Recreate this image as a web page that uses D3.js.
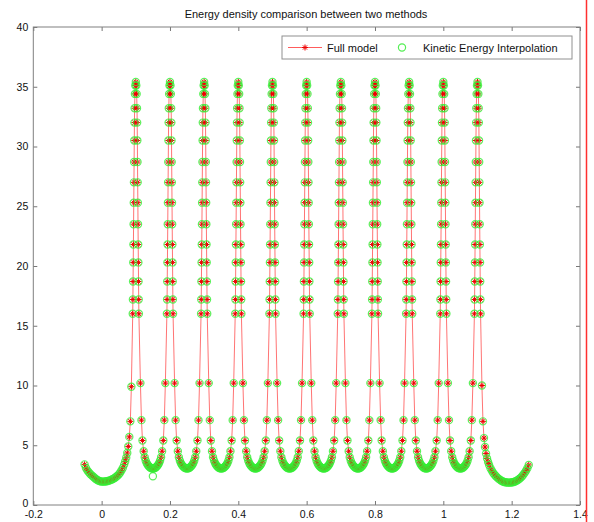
<!DOCTYPE html>
<html>
<head>
<meta charset="utf-8">
<script src="https://cdn.jsdelivr.net/npm/d3@7"></script>
<style>
  body { margin: 0; background: #fff; }
  svg { display: block; font-family: "Liberation Sans", Arial, sans-serif; }
  .tick text { fill: #111; font-size: 10.5px; }
  .tick line { stroke: #777; }
</style>
</head>
<body>
<div id="chart"></div>
<script>
// peaks of the periodic energy density (centre positions)
const peakCenters = [0.1, 0.2, 0.3, 0.4, 0.5, 0.6, 0.7, 0.8, 0.9, 1.0, 1.1];

// shape around one peak: offset from the peak centre and value
const peakDx = [-0.05, -0.047, -0.044, -0.041, -0.038, -0.035, -0.032, -0.029, -0.026, -0.023,
  -0.0195, -0.0165, -0.0135, -0.009, -0.0085, -0.008, -0.0075, -0.007, -0.0065, -0.006,
  -0.0055, -0.005, -0.0045, -0.004, -0.0035, -0.0025, -0.0015, 0, 0.0015, 0.0025,
  0.0035, 0.004, 0.0045, 0.005, 0.0055, 0.006, 0.0065, 0.007, 0.0075, 0.008,
  0.0085, 0.009, 0.0135, 0.0165, 0.0195, 0.023, 0.026, 0.029, 0.032, 0.035,
  0.038, 0.041, 0.044, 0.047];
const peakY = [3.06, 3.07, 3.1, 3.16, 3.24, 3.35, 3.5, 3.7, 4.0, 4.5,
  5.4, 7.1, 10.2, 16.0, 17.2, 18.7, 20.3, 21.8, 23.5, 25.3,
  27.0, 28.7, 30.5, 32.0, 33.2, 34.4, 35.1, 35.4, 35.1, 34.4,
  33.2, 32.0, 30.5, 28.7, 27.0, 25.3, 23.5, 21.8, 20.3, 18.7,
  17.2, 16.0, 10.2, 7.1, 5.4, 4.5, 4.0, 3.7, 3.5, 3.35,
  3.24, 3.16, 3.1, 3.07];

// the two end pieces
const leftTailX = [-0.05, -0.046, -0.042, -0.038, -0.034, -0.030, -0.026, -0.022, -0.018, -0.014,
  -0.010, -0.006, -0.002, 0.002, 0.006, 0.010, 0.014, 0.018, 0.022, 0.026,
  0.030, 0.034, 0.038, 0.042, 0.046, 0.050, 0.054, 0.058, 0.062, 0.066,
  0.069, 0.072, 0.075, 0.078, 0.081, 0.084, 0.087];
const leftTailY = [3.4, 3.1, 2.9, 2.75, 2.62, 2.5, 2.4, 2.3, 2.2, 2.12,
  2.05, 2.0, 1.97, 1.96, 1.96, 1.97, 1.99, 2.01, 2.04, 2.08,
  2.13, 2.19, 2.26, 2.34, 2.44, 2.56, 2.7, 2.88, 3.1, 3.38,
  3.65, 3.95, 4.35, 4.9, 5.7, 7.0, 9.9];
const rightTailX = [1.113, 1.116, 1.119, 1.122, 1.125, 1.128, 1.131, 1.134, 1.138, 1.142,
  1.146, 1.150, 1.154, 1.158, 1.162, 1.166, 1.170, 1.174, 1.178, 1.182,
  1.186, 1.190, 1.194, 1.198, 1.202, 1.206, 1.210, 1.214, 1.218, 1.222,
  1.226, 1.230, 1.234, 1.238, 1.242, 1.246, 1.250];
const rightTailY = [10.0, 7.0, 5.6, 4.85, 4.3, 3.9, 3.6, 3.35, 3.08, 2.86,
  2.68, 2.53, 2.4, 2.29, 2.19, 2.1, 2.03, 1.97, 1.93, 1.9,
  1.88, 1.87, 1.87, 1.88, 1.9, 1.93, 1.97, 2.02, 2.09, 2.17,
  2.27, 2.39, 2.53, 2.69, 2.87, 3.08, 3.35];

// interpolation differs from the full model at one point
const outlierX = [0.15];
const outlierY = [2.4];

const xTicks = [-0.2, 0, 0.2, 0.4, 0.6, 0.8, 1, 1.2, 1.4];
const yTicks = [0, 5, 10, 15, 20, 25, 30, 35, 40];

const titleText = "Energy density comparison between two methods";
const seriesNames = ["Full model", "Kinetic Energy Interpolation"];

// assemble the full model curve
let full = [];
leftTailX.forEach((x, i) => full.push([x, leftTailY[i]]));
peakCenters.forEach((p, k) => {
  peakDx.forEach((dx, i) => {
    if (k == 0 && dx < -0.0095) return;
    if (k == peakCenters.length - 1 && dx > 0.0095) return;
    full.push([p + dx, peakY[i]]);
  });
});
rightTailX.forEach((x, i) => full.push([x, rightTailY[i]]));

let interp = full.slice();
outlierX.forEach((x, i) => interp.push([x, outlierY[i]]));

const W = 594, H = 522;
const x = d3.scaleLinear().domain([-0.2, 1.4]).range([33.3, 580]);
const y = d3.scaleLinear().domain([0, 40]).range([505, 27]);

const svg = d3.select("#chart").append("svg").attr("width", W).attr("height", H);

// title
svg.append("text")
  .attr("x", 306).attr("y", 18)
  .attr("text-anchor", "middle")
  .attr("font-size", "11px")
  .attr("fill", "#111")
  .text(titleText);

// axes (ticks pointing inward on every side)
const fmt = d => String(+d.toFixed(1));
const axBottom = svg.append("g").attr("transform", "translate(0," + y(0) + ")")
  .call(d3.axisBottom(x).tickValues(xTicks).tickFormat(fmt).tickSizeInner(-4).tickSizeOuter(0).tickPadding(6));
const axTop = svg.append("g").attr("transform", "translate(0," + y(40) + ")")
  .call(d3.axisTop(x).tickValues(xTicks).tickFormat("").tickSizeInner(-4).tickSizeOuter(0));
const axLeft = svg.append("g").attr("transform", "translate(" + x(-0.2) + ",0)")
  .call(d3.axisLeft(y).tickValues(yTicks).tickFormat(d3.format("d")).tickSizeInner(-4).tickSizeOuter(0).tickPadding(5));
const axRight = svg.append("g").attr("transform", "translate(" + x(1.4) + ",0)")
  .call(d3.axisRight(y).tickValues(yTicks).tickFormat("").tickSizeInner(-4).tickSizeOuter(0));
svg.selectAll(".domain").remove();
svg.selectAll(".tick text").attr("font-family", null).attr("font-size", null);
// the "0" on the y axis sits just above the x labels
axLeft.selectAll(".tick text").filter(d => d == 0).attr("dy", "0.1em");

svg.append("rect")
  .attr("x", x(-0.2)).attr("y", y(40))
  .attr("width", x(1.4) - x(-0.2)).attr("height", y(0) - y(40))
  .attr("fill", "none").attr("stroke", "#808080").attr("stroke-width", 1);

// full model line + star markers
const line = d3.line().x(d => x(d[0])).y(d => y(d[1]));
svg.append("path").datum(full)
  .attr("d", line)
  .attr("fill", "none")
  .attr("stroke", "#ff5c5c")
  .attr("stroke-width", 1)
  .attr("stroke-opacity", 0.85);

const star = "M-3,0H3M0,-3V3M-2.1,-2.1L2.1,2.1M-2.1,2.1L2.1,-2.1";
svg.append("g").selectAll("path").data(full).join("path")
  .attr("transform", d => "translate(" + x(d[0]) + "," + y(d[1]) + ")")
  .attr("d", star)
  .attr("stroke", "#ee0000")
  .attr("stroke-width", 1);

// interpolation circles
svg.append("g").selectAll("circle").data(interp).join("circle")
  .attr("cx", d => x(d[0]))
  .attr("cy", d => y(d[1]))
  .attr("r", 3.6)
  .attr("fill", "none")
  .attr("stroke", "#33ee33")
  .attr("stroke-opacity", 0.8)
  .attr("stroke-width", 1.2);

// legend
const lg = svg.append("g");
lg.append("rect")
  .attr("x", 282).attr("y", 36).attr("width", 290).attr("height", 23)
  .attr("fill", "#fff").attr("stroke", "#909090");
lg.append("line")
  .attr("x1", 288).attr("x2", 322).attr("y1", 47.5).attr("y2", 47.5)
  .attr("stroke", "#ff5c5c").attr("stroke-width", 1);
lg.append("path")
  .attr("transform", "translate(305,47.5)")
  .attr("d", star).attr("stroke", "#ee0000");
lg.append("text").attr("x", 327).attr("y", 51.5).attr("font-size", "11px").attr("fill", "#111")
  .text(seriesNames[0]);
lg.append("circle").attr("cx", 402).attr("cy", 47.5).attr("r", 3.6)
  .attr("fill", "none").attr("stroke", "#55ee55").attr("stroke-width", 1.2);
lg.append("text").attr("x", 423).attr("y", 51.5).attr("font-size", "11px").attr("fill", "#111")
  .text(seriesNames[1]);

// red page edge on the right
svg.append("line")
  .attr("x1", 586.5).attr("x2", 586.5).attr("y1", 0).attr("y2", H)
  .attr("stroke", "#ff3030").attr("stroke-width", 1.5);
</script>
</body>
</html>
